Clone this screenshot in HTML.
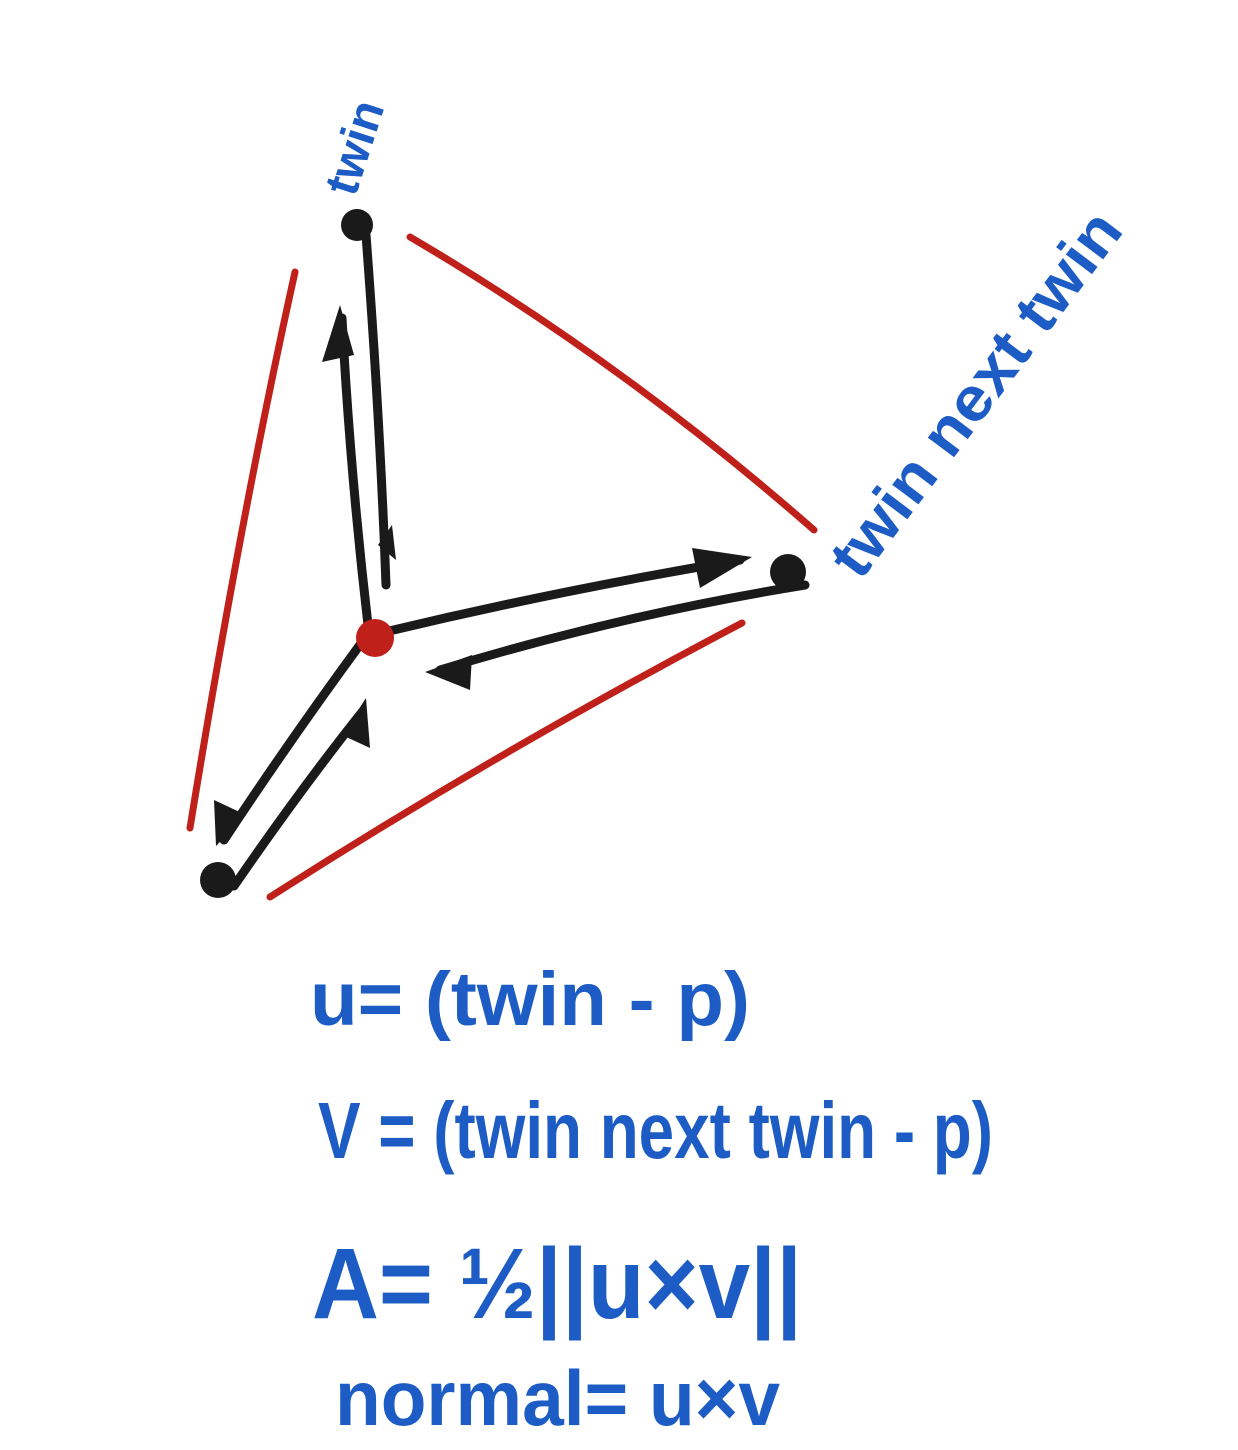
<!DOCTYPE html>
<html><head><meta charset="utf-8"><style>
html,body{margin:0;padding:0;background:#fff;}
svg{display:block;}
text{font-family:"Liberation Sans",sans-serif;fill:#1c5cc4;font-weight:bold;}
</style></head><body>
<svg width="1238" height="1450" viewBox="0 0 1238 1450">
<g stroke="#c0201a" stroke-width="7" stroke-linecap="round" fill="none">
<path d="M295 272 Q240 520 190 828"/>
<path d="M410 237 Q620 360 814 530"/>
<path d="M742 623 Q500 750 270 897"/>
</g>
<g stroke="#1a1a1a" stroke-width="9" stroke-linecap="round" fill="none">
<path d="M368 625 Q350 470 342 318"/>
<path d="M366 235 Q380 420 386 585"/>
<path d="M385 632 Q560 590 740 560"/>
<path d="M805 585 Q620 615 440 670"/>
<path d="M362 642 Q290 740 224 840"/>
<path d="M234 886 Q300 790 362 712"/>
</g>
<g fill="#1a1a1a">
<polygon points="340,305 322,362 354,355"/>
<polygon points="752,557 692,548 700,588"/>
<polygon points="425,672 472,655 470,690"/>
<polygon points="216,846 214,800 246,815"/>
<polygon points="366,698 370,748 342,735"/>
<polygon points="392,525 378,545 396,560"/>
</g>
<circle cx="357" cy="225" r="16" fill="#1a1a1a"/>
<circle cx="788" cy="572" r="18" fill="#1a1a1a"/>
<circle cx="218" cy="880" r="18" fill="#1a1a1a"/>
<circle cx="375" cy="638" r="19" fill="#c0201a"/>
<text x="0" y="0" font-size="48" transform="translate(355,198) rotate(-72)">twin</text>
<text x="0" y="0" font-size="62" textLength="440" lengthAdjust="spacingAndGlyphs" transform="translate(860,582) rotate(-53)">twin next twin</text>
<text x="310" y="1025" font-size="76" textLength="440" lengthAdjust="spacingAndGlyphs">u= (twin - p)</text>
<text x="318" y="1158" font-size="80" textLength="675" lengthAdjust="spacingAndGlyphs">V = (twin next twin - p)</text>
<text x="312" y="1318" font-size="100" textLength="490" lengthAdjust="spacingAndGlyphs">A= ½||u×v||</text>
<text x="335" y="1425" font-size="78" textLength="445" lengthAdjust="spacingAndGlyphs">normal= u×v</text>
</svg>
</body></html>
